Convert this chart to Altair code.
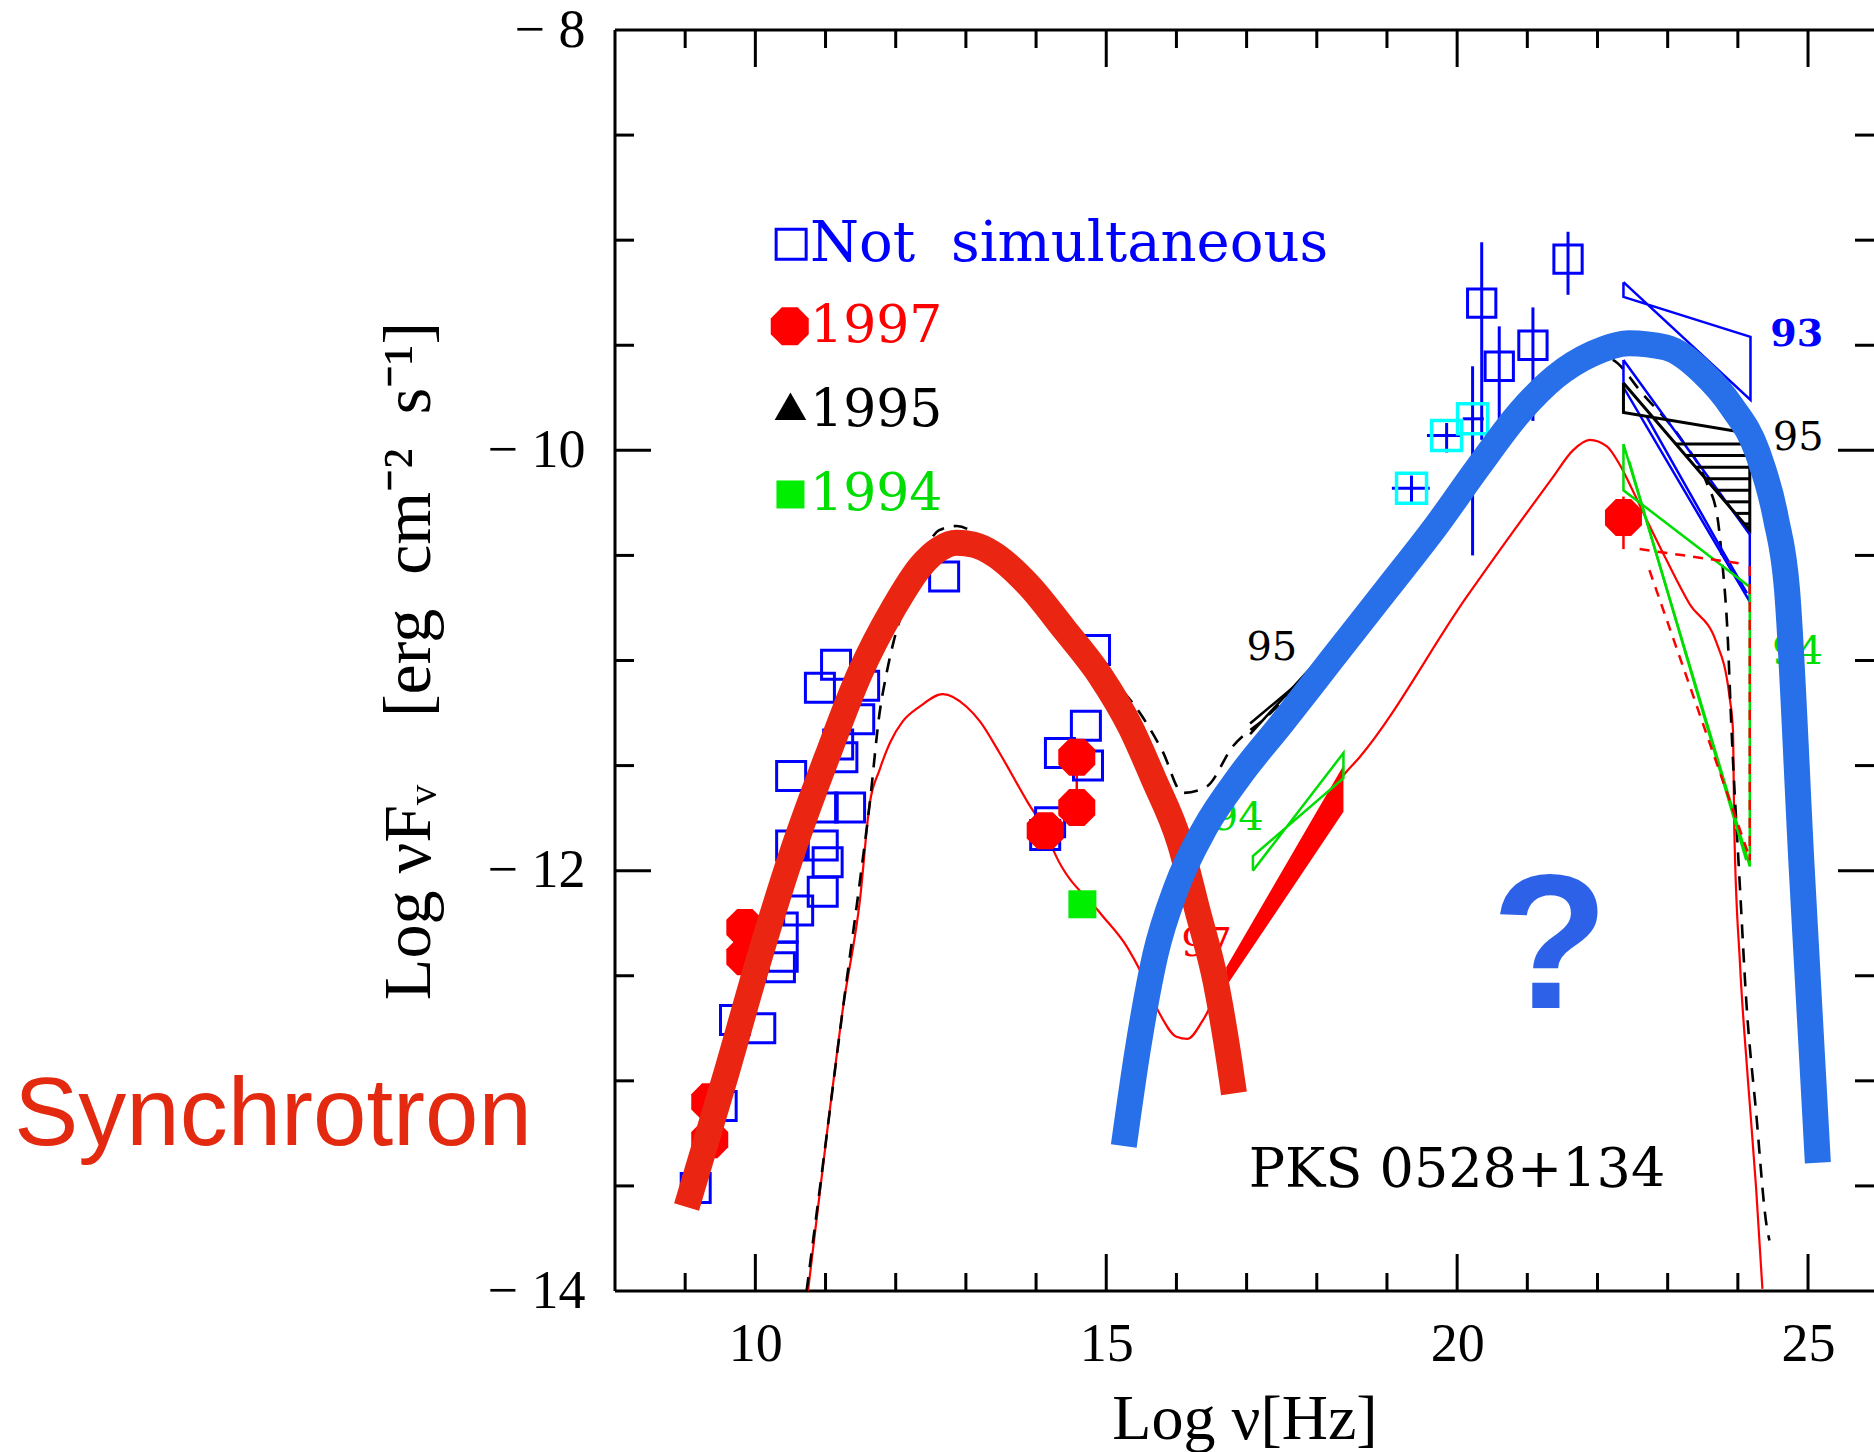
import altair as alt
import pandas as pd

W, H = 1259, 1261
X_DOMAIN = [8, 25.94]
Y_DOMAIN = [-14, -8]

# ---------------- data (Log nu, Log nuFnu) ----------------
# not simultaneous (blue open squares)
ns_v = [11.15, 10.92, 11.55, 11.48, 11.18, 10.51, 11.24, 10.96, 11.35, 10.51, 10.96, 11.03, 10.96,
        10.61, 10.39, 10.39, 10.35, 9.71, 10.07, 9.15, 9.52, 12.69, 14.84, 14.71, 14.34, 14.74, 14.20, 14.13]
ns_L = [-11.02, -11.13, -11.12, -11.28, -11.40, -11.55, -11.46, -11.70, -11.70, -11.88, -11.88, -11.96, -12.10,
        -12.19, -12.27, -12.41, -12.46, -12.71, -12.75, -13.51, -13.12, -10.60, -10.95, -11.31, -11.44, -11.50, -11.77, -11.83]
# high-energy non simultaneous squares with error bars
he_v = [20.35, 20.60, 21.08, 21.58]
he_L = [-9.30, -9.60, -9.50, -9.09]
he_lo = [-9.95, -9.86, -9.86, -9.26]
he_hi = [-9.01, -9.41, -9.32, -8.96]
# cyan squares (X-ray) with error crosses
cy_v = [19.35, 19.85, 20.22]
cy_L = [-10.18, -9.93, -9.85]
cy_vlo = [19.07, 19.57, 20.08]
cy_vhi = [19.61, 20.04, 20.38]
cy_lo = [-10.25, -10.01, -10.50]
cy_hi = [-10.12, -9.87, -9.60]
# 1997 (red octagons)
r97_v = [9.85, 9.85, 9.35, 9.35, 14.58, 14.58, 14.13, 22.37]
r97_L = [-12.27, -12.41, -13.10, -13.28, -11.46, -11.70, -11.81, -10.32]
r97e_v = [14.58, 22.37]
r97e_lo = [-11.70, -10.47]
r97e_hi = [-11.46, -10.22]
# 1994 (green square)
g94_v = [14.66]
g94_L = [-12.16]

# model curves
m97_v = [10.75, 11.02, 11.25, 11.49, 11.63, 11.77, 11.92, 12.10, 12.34, 12.67, 13.01, 13.20, 13.48, 13.89,
         14.13, 14.27, 14.91, 15.29, 15.52, 15.76, 16.00, 16.16, 16.38, 16.71, 17.28, 18.37, 18.61, 20.13,
         20.79, 21.36, 21.65, 21.89, 22.13, 22.32, 22.50, 22.70, 22.98, 23.31, 23.69, 23.88, 23.93, 23.95,
         24.03, 24.14, 24.26, 24.35]
m97_L = [-14.0, -13.25, -12.65, -12.14, -11.68, -11.52, -11.39, -11.29, -11.22, -11.16, -11.22, -11.29, -11.44, -11.68,
         -11.81, -11.92, -12.20, -12.36, -12.50, -12.68, -12.79, -12.80, -12.71, -12.49, -12.20, -11.55, -11.46, -10.70,
         -10.39, -10.13, -10.00, -9.95, -9.98, -10.07, -10.19, -10.33, -10.52, -10.73, -10.91, -11.17, -11.33, -11.81,
         -12.44, -12.98, -13.51, -13.99]
m95_v = [10.73, 11.02, 11.25, 11.49, 11.63, 11.77, 11.87, 11.97, 12.16, 12.62, 12.87, 13.19, 13.60, 14.20,
         14.97, 15.48, 15.80, 16.09, 16.43, 16.80, 17.28, 18.04, 19.00, 20.00, 21.00, 21.70, 22.00, 22.22,
         22.64, 23.20, 23.55, 23.71, 23.78, 23.85, 23.91, 24.03, 24.12, 24.26, 24.41, 24.45]
m95_L = [-14.0, -13.25, -12.65, -12.05, -11.68, -11.25, -11.06, -10.91, -10.71, -10.38, -10.36, -10.41, -10.55, -10.78,
         -11.05, -11.25, -11.43, -11.63, -11.60, -11.41, -11.27, -11.00, -10.62, -10.22, -9.85, -9.62, -9.55, -9.57,
         -9.73, -9.95, -10.15, -10.32, -10.54, -10.85, -11.33, -12.08, -12.62, -13.15, -13.69, -13.76]

# hand-drawn thick curves
sync_v = [9.02, 9.59, 10.07, 10.54, 11.02, 11.49, 11.97, 12.36, 12.62, 12.87, 13.12, 13.38, 13.89, 14.40, 14.91,
          15.35, 15.67, 16.05, 16.30, 16.56, 16.75, 16.82]
sync_L = [-13.60, -12.96, -12.40, -11.90, -11.46, -11.06, -10.75, -10.55, -10.47, -10.44, -10.45, -10.49, -10.64,
          -10.85, -11.07, -11.32, -11.56, -11.87, -12.19, -12.53, -12.90, -13.06]
ic_v = [15.25, 15.45, 15.70, 16.00, 16.40, 16.90, 17.50, 18.20, 19.00, 19.70, 20.30, 20.89, 21.40, 21.93,
        22.45, 22.97, 23.50, 23.91, 24.28, 24.54, 24.70, 24.91, 25.14]
ic_L = [-13.31, -12.85, -12.40, -12.08, -11.80, -11.55, -11.30, -11.00, -10.66, -10.36, -10.08, -9.82, -9.65, -9.54,
        -9.49, -9.51, -9.63, -9.79, -10.01, -10.32, -10.66, -11.99, -13.39]

# bow-ties / spectra
bow93_v = [22.37, 24.18, 24.18, 22.37, 22.37]
bow93_L = [-9.20, -9.76, -9.46, -9.27, -9.20]
bowB_v = [22.37, 24.17, 24.17, 22.37, 22.37]
bowB_L = [-9.57, -10.40, -10.72, -9.70, -9.57]
bowB2_v = [22.70, 23.75, 24.13]
bowB2_L = [-9.84, -10.46, -10.68]
hat_v = [22.37, 24.17, 24.17, 22.37, 22.37]
hat_L = [-9.68, -10.38, -9.92, -9.82, -9.68]
hatch_L = [-9.97, -10.025, -10.08, -10.135, -10.19, -10.245, -10.30, -10.35]
g94he_v = [22.37, 24.17, 24.17, 22.37, 22.37]
g94he_L = [-9.97, -11.98, -10.65, -10.19, -9.97]
g94he2_v = [22.45, 24.12]
g94he2_L = [-10.05, -11.95]
r97ul_a_v = [22.60, 24.07]
r97ul_a_L = [-10.47, -10.54]
r97ul_b_v = [22.74, 24.17]
r97ul_b_L = [-10.57, -11.94]
r97ul_c_v = [24.17, 24.17]
r97ul_c_L = [-10.55, -11.95]
x95_a_v = [17.05, 18.12]
x95_a_L = [-11.35, -10.96]
x95_b_v = [17.05, 18.12]
x95_b_L = [-11.30, -11.00]
x94_v = [17.09, 18.38, 18.38, 17.09, 17.09]
x94_L = [-12.00, -11.44, -11.56, -11.93, -12.00]
x97_v = [16.71, 18.38]
x97_top = [-12.46, -11.50]
x97_bot = [-12.55, -11.72]

# texts
legend_text = ["Not\u00a0 simultaneous", "1997", "1995", "1994"]
legend_col = ["#0000FF", "#FF0000", "#000000", "#00DD00"]
legend_L = [-9.02, -9.41, -9.81, -10.21]
lab_text = ["95", "95", "94", "94", "97"]
lab_col = ["#000000", "#000000", "#00DD00", "#00DD00", "#FF0000"]
lab_v = [17.36, 24.86, 16.88, 24.85, 16.43]
lab_L = [-10.94, -9.94, -11.75, -10.96, -12.35]

OCT = "M-0.414,-1L0.414,-1L1,-0.414L1,0.414L0.414,1L-0.414,1L-1,0.414L-1,-0.414Z"

# ---------------- chart ----------------
xs = alt.Scale(domain=X_DOMAIN, nice=False, zero=False)
ys = alt.Scale(domain=Y_DOMAIN, nice=False, zero=False)
xaxis = alt.Axis(values=[10, 15, 20, 25], title="Log \u03bd[Hz]", grid=False, domain=False, tickSize=0,
                 labelFont="Liberation Serif", labelFontSize=54, labelColor="black", labelPadding=26,
                 labelFlush=False, labelOverlap=False,
                 titleFont="Liberation Serif", titleFontSize=64, titleFontWeight="normal",
                 titleColor="black", titlePadding=16)
yaxis = alt.Axis(values=[-8, -10, -12, -14],
                 title="Log \u03bdF\u1d65\u00a0\u00a0\u00a0 [erg\u00a0 cm\u207b\u00b2\u00a0 s\u207b\u00b9]",
                 grid=False, domain=False, tickSize=0,
                 labelExpr="'\u2212 ' + (-datum.value)",
                 labelFont="Liberation Serif", labelFontSize=54, labelColor="black", labelPadding=30,
                 labelFlush=False, labelOverlap=False,
                 titleFont="Liberation Serif", titleFontSize=68, titleFontWeight="normal",
                 titleColor="black", titlePadding=44)
X = alt.X("v:Q", scale=xs, axis=xaxis)
Y = alt.Y("L:Q", scale=ys, axis=yaxis)


def pts(v, L):
    return pd.DataFrame({"v": v, "L": L})


def paths(groups):
    rows = []
    for g, (vs, Ls) in enumerate(groups):
        for i, (a, b) in enumerate(zip(vs, Ls)):
            rows.append({"g": g, "i": i, "v": a, "L": b})
    return pd.DataFrame(rows)


def polyline(groups, color, width, dash=None):
    kw = dict(color=color, strokeWidth=width)
    if dash:
        kw["strokeDash"] = dash
    return alt.Chart(paths(groups)).mark_line(**kw).encode(
        x=X, y=Y, detail="g:N", order="i:Q")


layers = []
one = pd.DataFrame({"k": [0]})
# frame
layers.append(alt.Chart(one).mark_rule(color="black", strokeWidth=3).encode(
    x=alt.value(0), y=alt.value(0), y2=alt.value(H)))
layers.append(alt.Chart(one).mark_rule(color="black", strokeWidth=3).encode(
    x=alt.value(0), x2=alt.value(W + 5), y=alt.value(0)))
layers.append(alt.Chart(one).mark_rule(color="black", strokeWidth=3).encode(
    x=alt.value(0), x2=alt.value(W + 5), y=alt.value(H)))
# inward ticks
for vals, ln in (([9, 11, 12, 13, 14, 16, 17, 18, 19, 21, 22, 23, 24], 18), ([10, 15, 20, 25], 37)):
    d = pd.DataFrame({"v": vals})
    layers.append(alt.Chart(d).mark_rule(color="black", strokeWidth=3).encode(
        x=X, y=alt.value(H), y2=alt.value(H - ln)))
    layers.append(alt.Chart(d).mark_rule(color="black", strokeWidth=3).encode(
        x=X, y=alt.value(0), y2=alt.value(ln)))
for vals, ln in (([-13.5, -13, -12.5, -11.5, -11, -10.5, -9.5, -9, -8.5], 19), ([-10, -12], 36)):
    d = pd.DataFrame({"L": vals})
    layers.append(alt.Chart(d).mark_rule(color="black", strokeWidth=3).encode(
        y=Y, x=alt.value(0), x2=alt.value(ln)))
    layers.append(alt.Chart(d).mark_rule(color="black", strokeWidth=3).encode(
        y=Y, x=alt.value(W), x2=alt.value(W - ln)))

# model curves
layers.append(alt.Chart(pts(m97_v, m97_L)).mark_line(color="#FF0000", strokeWidth=2.2, interpolate="monotone").encode(x=X, y=Y))
layers.append(alt.Chart(pts(m95_v, m95_L)).mark_line(color="black", strokeWidth=2.6, strokeDash=[14, 10],
                                                     interpolate="monotone").encode(x=X, y=Y))
# X-ray spectra
layers.append(alt.Chart(pd.DataFrame({"v": x97_v, "L": x97_top, "L2": x97_bot})).mark_area(color="#FF0000").encode(
    x=X, y=Y, y2=alt.Y2("L2:Q")))
layers.append(polyline([(x95_a_v, x95_a_L), (x95_b_v, x95_b_L)], "black", 2.5))
layers.append(polyline([(x94_v, x94_L)], "#00DD00", 2.5))
# gamma-ray spectra
layers.append(polyline([(bow93_v, bow93_L), (bowB_v, bowB_L), (bowB2_v, bowB2_L)], "#0000FF", 2.5))
hat_rows = []
for Lh in hatch_L:
    vl = hat_v[0] + (hat_v[1] - hat_v[0]) * (hat_L[0] - Lh) / (hat_L[0] - hat_L[1])
    hat_rows.append({"v": vl, "v2": hat_v[1], "L": Lh})
layers.append(alt.Chart(pd.DataFrame(hat_rows)).mark_rule(color="black", strokeWidth=3).encode(
    x=X, x2=alt.X2("v2:Q"), y=Y))
layers.append(polyline([(hat_v, hat_L)], "black", 3))
layers.append(polyline([(g94he_v, g94he_L), (g94he2_v, g94he2_L)], "#00DD00", 2.5))
layers.append(polyline([(r97ul_a_v, r97ul_a_L), (r97ul_b_v, r97ul_b_L), (r97ul_c_v, r97ul_c_L)], "#FF0000", 2.5, [10, 8]))

# error bars
layers.append(alt.Chart(pd.DataFrame({"v": he_v, "L": he_lo, "L2": he_hi})).mark_rule(
    color="#0000FF", strokeWidth=3).encode(x=X, y=Y, y2=alt.Y2("L2:Q")))
layers.append(alt.Chart(pd.DataFrame({"v": cy_v, "L": cy_lo, "L2": cy_hi})).mark_rule(
    color="#0000FF", strokeWidth=3).encode(x=X, y=Y, y2=alt.Y2("L2:Q")))
layers.append(alt.Chart(pd.DataFrame({"v": cy_vlo, "v2": cy_vhi, "L": cy_L})).mark_rule(
    color="#0000FF", strokeWidth=3).encode(x=X, x2=alt.X2("v2:Q"), y=Y))
layers.append(alt.Chart(pd.DataFrame({"v": r97e_v, "L": r97e_lo, "L2": r97e_hi})).mark_rule(
    color="#FF0000", strokeWidth=2.5).encode(x=X, y=Y, y2=alt.Y2("L2:Q")))

# data points
layers.append(alt.Chart(pts(ns_v, ns_L)).mark_point(shape="square", filled=False, color="#0000FF",
                                                   size=841, strokeWidth=3, opacity=1).encode(x=X, y=Y))
layers.append(alt.Chart(pts(he_v, he_L)).mark_point(shape="square", filled=False, color="#0000FF",
                                                   size=800, strokeWidth=3, opacity=1).encode(x=X, y=Y))
layers.append(alt.Chart(pts(cy_v, cy_L)).mark_point(shape="square", filled=False, color="#00FFFF",
                                                   size=900, strokeWidth=3.5, opacity=1).encode(x=X, y=Y))
layers.append(alt.Chart(pts(r97_v, r97_L)).mark_point(shape=OCT, filled=True, color="#FF0000",
                                                     size=1369, opacity=1).encode(x=X, y=Y))
layers.append(alt.Chart(pts(g94_v, g94_L)).mark_point(shape="square", filled=True, color="#00EE00",
                                                     size=784, opacity=1).encode(x=X, y=Y))

# legend
layers.append(alt.Chart(pts([10.51], [legend_L[0]])).mark_point(shape="square", filled=False, color="#0000FF",
                                                               size=900, strokeWidth=3, opacity=1).encode(x=X, y=Y))
layers.append(alt.Chart(pts([10.49], [legend_L[1]])).mark_point(shape=OCT, filled=True, color="#FF0000",
                                                               size=1444, opacity=1).encode(x=X, y=Y))
layers.append(alt.Chart(pts([10.50], [legend_L[2] + 0.02])).mark_point(shape="triangle-up", filled=True, color="black",
                                                                      size=1000, opacity=1).encode(x=X, y=Y))
layers.append(alt.Chart(pts([10.50], [legend_L[3]])).mark_point(shape="square", filled=True, color="#00EE00",
                                                               size=784, opacity=1).encode(x=X, y=Y))
leg_df = pd.DataFrame({"v": [10.78] * 4, "L": legend_L, "t": legend_text, "c": legend_col,
                       "fs": [56, 52, 52, 52]})
layers.append(alt.Chart(leg_df).mark_text(font="DejaVu Serif", align="left", baseline="middle").encode(
    x=X, y=Y, text="t:N", color=alt.Color("c:N", scale=None), size=alt.Size("fs:Q", scale=None)))

# labels
lab_df = pd.DataFrame({"v": lab_v, "L": lab_L, "t": lab_text, "c": lab_col})
layers.append(alt.Chart(lab_df).mark_text(font="DejaVu Serif", fontSize=40, align="center", baseline="middle").encode(
    x=X, y=Y, text="t:N", color=alt.Color("c:N", scale=None)))
layers.append(alt.Chart(pd.DataFrame({"v": [24.84], "L": [-9.45], "t": ["93"]})).mark_text(
    font="DejaVu Serif", fontSize=38, fontWeight="bold", color="#0000FF", align="center", baseline="middle").encode(
    x=X, y=Y, text="t:N"))
layers.append(alt.Chart(pd.DataFrame({"v": [17.03], "L": [-13.43], "t": ["PKS 0528+134"]})).mark_text(
    font="DejaVu Serif", fontSize=54, color="black", align="left", baseline="middle").encode(
    x=X, y=Y, text="t:N"))

# hand-drawn components
layers.append(alt.Chart(pts(sync_v, sync_L)).mark_line(color="#EA2511", strokeWidth=26, strokeCap="butt",
                                                      strokeJoin="round", interpolate="monotone").encode(x=X, y=Y))
layers.append(alt.Chart(pts(ic_v, ic_L)).mark_line(color="#2870EA", strokeWidth=26, strokeCap="butt",
                                                  strokeJoin="round", interpolate="monotone").encode(x=X, y=Y))
layers.append(alt.Chart(pd.DataFrame({"v": [21.32], "L": [-12.655], "t": ["?"]})).mark_text(
    font="Liberation Sans", fontSize=192, fontWeight="bold", color="#2D62E8", align="center",
    baseline="alphabetic").encode(x=X, y=Y, text="t:N"))
layers.append(alt.Chart(pd.DataFrame({"v": [-0.56], "L": [-13.305], "t": ["Synchrotron"]})).mark_text(
    font="Liberation Sans", fontSize=96, color="#E3290F", align="left",
    baseline="alphabetic").encode(x=X, y=Y, text="t:N"))

chart = alt.layer(*layers).properties(
    width=W, height=H,
    padding={"left": 615, "top": 30, "right": 0, "bottom": 161},
    autosize=alt.AutoSizeParams(type="none"),
    background="white",
).configure_view(strokeWidth=0)

chart.save("out.html", embed_options={"renderer": "svg", "actions": False})
